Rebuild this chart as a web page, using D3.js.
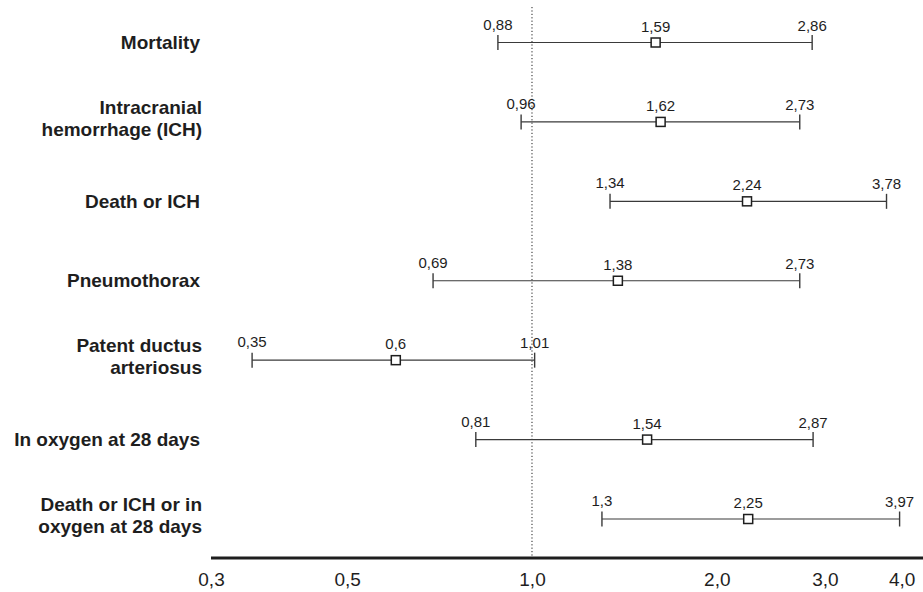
<!DOCTYPE html>
<html>
<head>
<meta charset="utf-8">
<script src="https://cdn.jsdelivr.net/npm/d3@7"></script>
<style>
  html, body { margin: 0; padding: 0; background: #fff; }
  svg { display: block; font-family: "Liberation Sans", Arial, Helvetica, sans-serif; }
</style>
</head>
<body>
<svg id="chart" width="923" height="592"></svg>
<script>
// ---- data ----
const categories = [
  ["Mortality"],
  ["Intracranial", "hemorrhage (ICH)"],
  ["Death or ICH"],
  ["Pneumothorax"],
  ["Patent ductus", "arteriosus"],
  ["In oxygen at 28 days"],
  ["Death or ICH or in", "oxygen at 28 days"]
];
const estimate = [1.59, 1.62, 2.24, 1.38, 0.6, 1.54, 2.25];
const lower    = [0.88, 0.96, 1.34, 0.69, 0.35, 0.81, 1.3];
const upper    = [2.86, 2.73, 3.78, 2.73, 1.01, 2.87, 3.97];
const tickValues = [0.3, 0.5, 1.0, 2.0, 3.0, 4.0];
const tickLabels = ["0,3", "0,5", "1,0", "2,0", "3,0", "4,0"];
const referenceValue = 1.0;

// ---- layout ----
const svg = d3.select("#chart");
const ink = "#1e1e1e";
const lineInk = "#3a3a3a";

const x = d3.scaleLog().domain([0.3, 4.0]).range([211, 901.6]);
const y = d3.scalePoint().domain(d3.range(categories.length)).range([42.5, 519]);
const axisY = 558;

const fmt = v => String(v).replace(".", ",");

// reference dotted line
svg.append("line")
  .attr("x1", x(referenceValue)).attr("x2", x(referenceValue))
  .attr("y1", 7).attr("y2", axisY)
  .attr("stroke", ink).attr("stroke-width", 1)
  .attr("stroke-dasharray", "1.2,2.2");

// axis
const axis = d3.axisBottom(x)
  .tickValues(tickValues)
  .tickFormat((d, i) => tickLabels[i])
  .tickSize(0)
  .tickPadding(0);
const gAxis = svg.append("g").attr("transform", `translate(0,${axisY})`).call(axis);
gAxis.select(".domain").remove();
gAxis.append("line")
  .attr("x1", 211).attr("x2", 923).attr("y1", 0).attr("y2", 0)
  .attr("stroke", ink).attr("stroke-width", 3);
gAxis.selectAll(".tick text")
  .attr("font-size", 19)
  .attr("fill", ink)
  .attr("dy", null)
  .attr("y", 28)
  .attr("font-family", "Liberation Sans, Arial, sans-serif");

// rows
const rows = svg.append("g").selectAll("g")
  .data(categories.map((c, i) => ({ c, i, est: estimate[i], lo: lower[i], hi: upper[i] })))
  .join("g");

// category labels
rows.each(function(d) {
  const g = d3.select(this);
  const yy = y(d.i);
  const lines = d.c;
  const t = g.append("text")
    .attr("text-anchor", "end")
    .attr("font-weight", "bold")
    .attr("font-size", 19)
    .attr("fill", ink);
  if (lines.length === 1) {
    t.append("tspan").attr("x", 200).attr("y", yy + 6.5).text(lines[0]);
  } else {
    t.append("tspan").attr("x", 202).attr("y", yy - 8).text(lines[0]);
    t.append("tspan").attr("x", 202).attr("y", yy + 14).text(lines[1]);
  }
});

// CI lines
rows.append("line")
  .attr("x1", d => x(d.lo)).attr("x2", d => x(d.hi))
  .attr("y1", d => y(d.i)).attr("y2", d => y(d.i))
  .attr("stroke", lineInk).attr("stroke-width", 1.2);

// end caps
["lo", "hi"].forEach(k => {
  rows.append("line")
    .attr("x1", d => x(d[k])).attr("x2", d => x(d[k]))
    .attr("y1", d => y(d.i) - 7.5).attr("y2", d => y(d.i) + 7.5)
    .attr("stroke", lineInk).attr("stroke-width", 1.4);
});

// point squares
const s = 9;
rows.append("rect")
  .attr("x", d => x(d.est) - s / 2).attr("y", d => y(d.i) - s / 2)
  .attr("width", s).attr("height", s)
  .attr("fill", "#fff").attr("stroke", ink).attr("stroke-width", 1.5);

// value labels
[["lo", -13], ["est", -11], ["hi", -12]].forEach(([k, off]) => {
  rows.append("text")
    .attr("x", d => x(d[k]))
    .attr("y", d => y(d.i) + off)
    .attr("text-anchor", "middle")
    .attr("font-size", 15)
    .attr("fill", ink)
    .text(d => fmt(d[k]));
});
</script>
</body>
</html>
